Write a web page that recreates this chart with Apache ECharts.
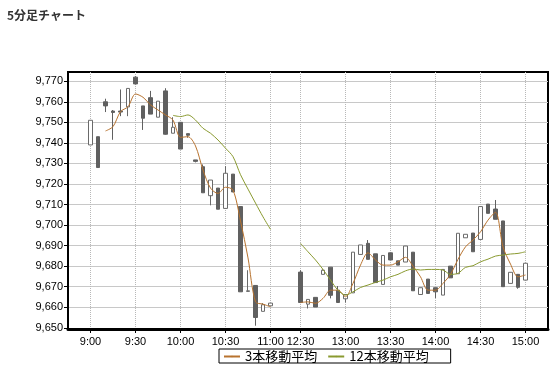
<!DOCTYPE html>
<html><head><meta charset="utf-8">
<script src="https://cdn.jsdelivr.net/npm/echarts@6/dist/echarts.min.js"></script>
<style>html,body{margin:0;padding:0;background:#fff}#c{width:557px;height:371px}</style>
</head><body><div id="c"></div>
<script>
// ---- data ----
const morningTimes = ['9:00','9:05','9:10','9:15','9:20','9:25','9:30','9:35','9:40','9:45','9:50','9:55',
  '10:00','10:05','10:10','10:15','10:20','10:25','10:30','10:35','10:40','10:45','10:50','10:55','11:00'];
const afternoonTimes = ['12:30','12:35','12:40','12:45','12:50','12:55','13:00','13:05','13:10','13:15','13:20','13:25',
  '13:30','13:35','13:40','13:45','13:50','13:55','14:00','14:05','14:10','14:15','14:20','14:25',
  '14:30','14:35','14:40','14:45','14:50','14:55','15:00'];
const labelTimes = ['9:00','9:30','10:00','10:30','11:00','12:30','13:00','13:30','14:00','14:30','15:00'];
const yTicks = [9650,9660,9670,9680,9690,9700,9710,9720,9730,9740,9750,9760,9770];

const amOpen  = [9739,9743,9760,9755.5,9755.5,9757.5,9772,9758,9762,9752.5,9765.3,9744.7,9750,9744.5,9731.7,9728.4,9714.3,9718,9708.1,9724.8,9709,9667.7,9670.6,9658,9660.7];
const amClose = [9751,9728,9758,9754.8,9755,9766.5,9768.7,9752,9754,9760.3,9744.2,9747.6,9737,9743.7,9731,9715.7,9721.9,9707.7,9725.2,9716.1,9667.5,9668,9655,9661.2,9662];
const amLow   = [9739,9728,9755,9741.5,9753,9753,9768.5,9746.3,9754,9752.5,9744,9744.7,9737,9742.5,9730.5,9715.7,9709.6,9707.7,9708.1,9716.1,9667.5,9667.5,9651,9658,9660.7];
const amHigh  = [9751,9743,9761.5,9756,9766,9766.5,9772.5,9758,9765.3,9760.3,9766.6,9752.5,9750,9744.5,9731.7,9729.5,9721.9,9718,9728.7,9724.8,9709,9678,9670.6,9662,9662];

const pmOpen  = [9677.1,9661.5,9664.8,9676,9679.5,9668.3,9664.1,9667,9685.7,9691.1,9686,9671.1,9686.5,9682.6,9682,9686.8,9666.2,9673.7,9669.5,9665.9,9680,9676.3,9693.8,9696.1,9693,9710.2,9707.8,9702,9671.6,9676,9673.2];
const pmClose = [9662.3,9663.8,9660.1,9678,9665.8,9662.3,9666.2,9686.8,9690.3,9683.3,9672,9685.2,9683,9680.5,9689.8,9668,9669.5,9666.7,9667.5,9678.4,9674.3,9696,9695.5,9687,9709,9705.7,9702.8,9670,9677,9669.7,9681.4];
const pmLow   = [9662,9659.4,9660.1,9676,9664.3,9662.3,9662.3,9667,9685.7,9683.3,9672,9671.1,9683,9680.5,9682,9668,9666.2,9666.7,9664.5,9665.9,9674.3,9676.3,9693.8,9687,9693,9705.7,9702.8,9670,9671.6,9669,9673.2];
const pmHigh  = [9678,9663.8,9664.8,9678.5,9679.5,9670.3,9666.2,9686.8,9690.3,9692.7,9686,9685.2,9686.5,9682.6,9689.8,9686.8,9669.5,9673.7,9669.5,9678.4,9680,9696,9695.5,9696.1,9709,9710.2,9712.2,9702,9677,9676,9681.4];

const amMA3  = [null,null,9745.8,9747.9,9755.2,9757.6,9763.8,9762.2,9758.5,9756,9753.6,9751.1,9742.7,9743,9738.5,9726.8,9718,9715.4,9718.4,9717,9702,9684,9662.6,9661.5,9660.2];
const pmMA3  = [9662.3,9662.6,9661.9,9664.3,9668.3,9668.3,9665.1,9671.6,9680.5,9686.5,9683,9680.5,9680.5,9682.1,9684.3,9680,9674.8,9668.3,9668.3,9671.6,9676,9683.3,9689.4,9692.7,9696.7,9702.4,9706.2,9689.4,9681,9674.8,9675.7];
const amMA12 = [null,null,null,null,null,null,null,null,null,null,null,9753.4,9752.8,9753.6,9751.1,9747.1,9744.7,9741.4,9737.4,9733.3,9724.5,9717.5,9710.7,9704,9697.9];
const pmMA12 = [9691.1,9687,9683,9678.4,9673.2,9668.3,9665.9,9667.5,9669.6,9670.8,9672.1,9673.2,9674.8,9676,9677.7,9678.6,9678.1,9678.4,9678.4,9678.1,9676,9676.5,9679.4,9680.2,9682.1,9683.4,9684.9,9685.4,9685.9,9686.2,9687];

// ---- build axis / series arrays ----
const padL = ['_a','_b','_c'], gap = ['_d','_e','_f'], padR = ['_g','_h','_i'];
const categories = padL.concat(morningTimes, gap, afternoonTimes, padR);
const emptyC = () => ['-','-','-','-'];
const nulls = n => Array.from({length:n}, () => null);
const emptyCs = n => Array.from({length:n}, emptyC);
const amCandles = morningTimes.map((t,i) => [amOpen[i], amClose[i], amLow[i], amHigh[i]]);
const pmCandles = afternoonTimes.map((t,i) => [pmOpen[i], pmClose[i], pmLow[i], pmHigh[i]]);
const candleData = emptyCs(3).concat(amCandles, emptyCs(3), pmCandles, emptyCs(3));
const ma3Data = nulls(3).concat(amMA3, nulls(3), pmMA3, nulls(3));
const ma12Data = nulls(3).concat(amMA12, nulls(3), pmMA12, nulls(3));

const showFn = (idx, val) => labelTimes.indexOf(val) >= 0;
const numFont = "'Liberation Sans',Arial,sans-serif";
const cjkFont = "'Noto Sans CJK JP','Noto Sans',sans-serif";

const chart = echarts.init(document.getElementById('c'), null, {renderer:'canvas'});
chart.setOption({
  animation: false,
  backgroundColor: '#fff',
  title: {
    text: '5分足チャート', left: 7, top: 9, padding: 0,
    textStyle: {fontSize: 12, fontWeight: 'bold', color: '#333', fontFamily: cjkFont}
  },
  legend: {
    left: 219, top: 349, padding: [1, 22, 0, 4], itemGap: 10, itemWidth: 16, itemHeight: 2,
    borderColor: '#000', borderWidth: 1, backgroundColor: '#fff', borderRadius: 0,
    textStyle: {fontSize: 13, color: '#000', fontFamily: cjkFont},
    data: ['3本移動平均', '12本移動平均']
  },
  grid: {left: 68, right: 9, top: 72, bottom: 42, show: true, borderColor: '#000', borderWidth: 2, containLabel: false},
  xAxis: {
    type: 'category', data: categories, boundaryGap: false,
    axisLine: {lineStyle: {color: '#000', width: 3}},
    axisTick: {interval: showFn, length: 4, lineStyle: {color: '#000'}},
    axisLabel: {interval: showFn, fontSize: 11, color: '#000', margin: 7, fontFamily: numFont},
    splitLine: {show: true, interval: showFn, lineStyle: {type: 'dotted', color: '#b8b8b8', width: 1}}
  },
  yAxis: {
    type: 'value', min: 9649.4, max: 9774.5, scale: true,
    axisLine: {show: true, lineStyle: {color: '#000', width: 1}},
    axisTick: {show: true, length: 4, lineStyle: {color: '#000'}, customValues: yTicks},
    axisLabel: {customValues: yTicks, fontSize: 11, color: '#000', margin: 5, fontFamily: numFont,
      formatter: v => Math.round(v).toLocaleString('en-US')},
    splitLine: {show: true, lineStyle: {color: '#c8c8c8', width: 1}}
  },
  series: [
    {type: 'candlestick', data: candleData, barWidth: 4,
      itemStyle: {color: '#fff', color0: '#606060', borderColor: '#6a6a6a', borderColor0: '#606060', borderWidth: 1}},
    {name: '3本移動平均', type: 'line', data: ma3Data, symbol: 'none', smooth: 0.3, z: 3,
      lineStyle: {color: '#b8732f', width: 1}, itemStyle: {color: '#b8732f'}},
    {name: '12本移動平均', type: 'line', data: ma12Data, symbol: 'none', smooth: 0.3, z: 3,
      lineStyle: {color: '#8a9a30', width: 1}, itemStyle: {color: '#8a9a30'}}
  ]
});
</script></body></html>
